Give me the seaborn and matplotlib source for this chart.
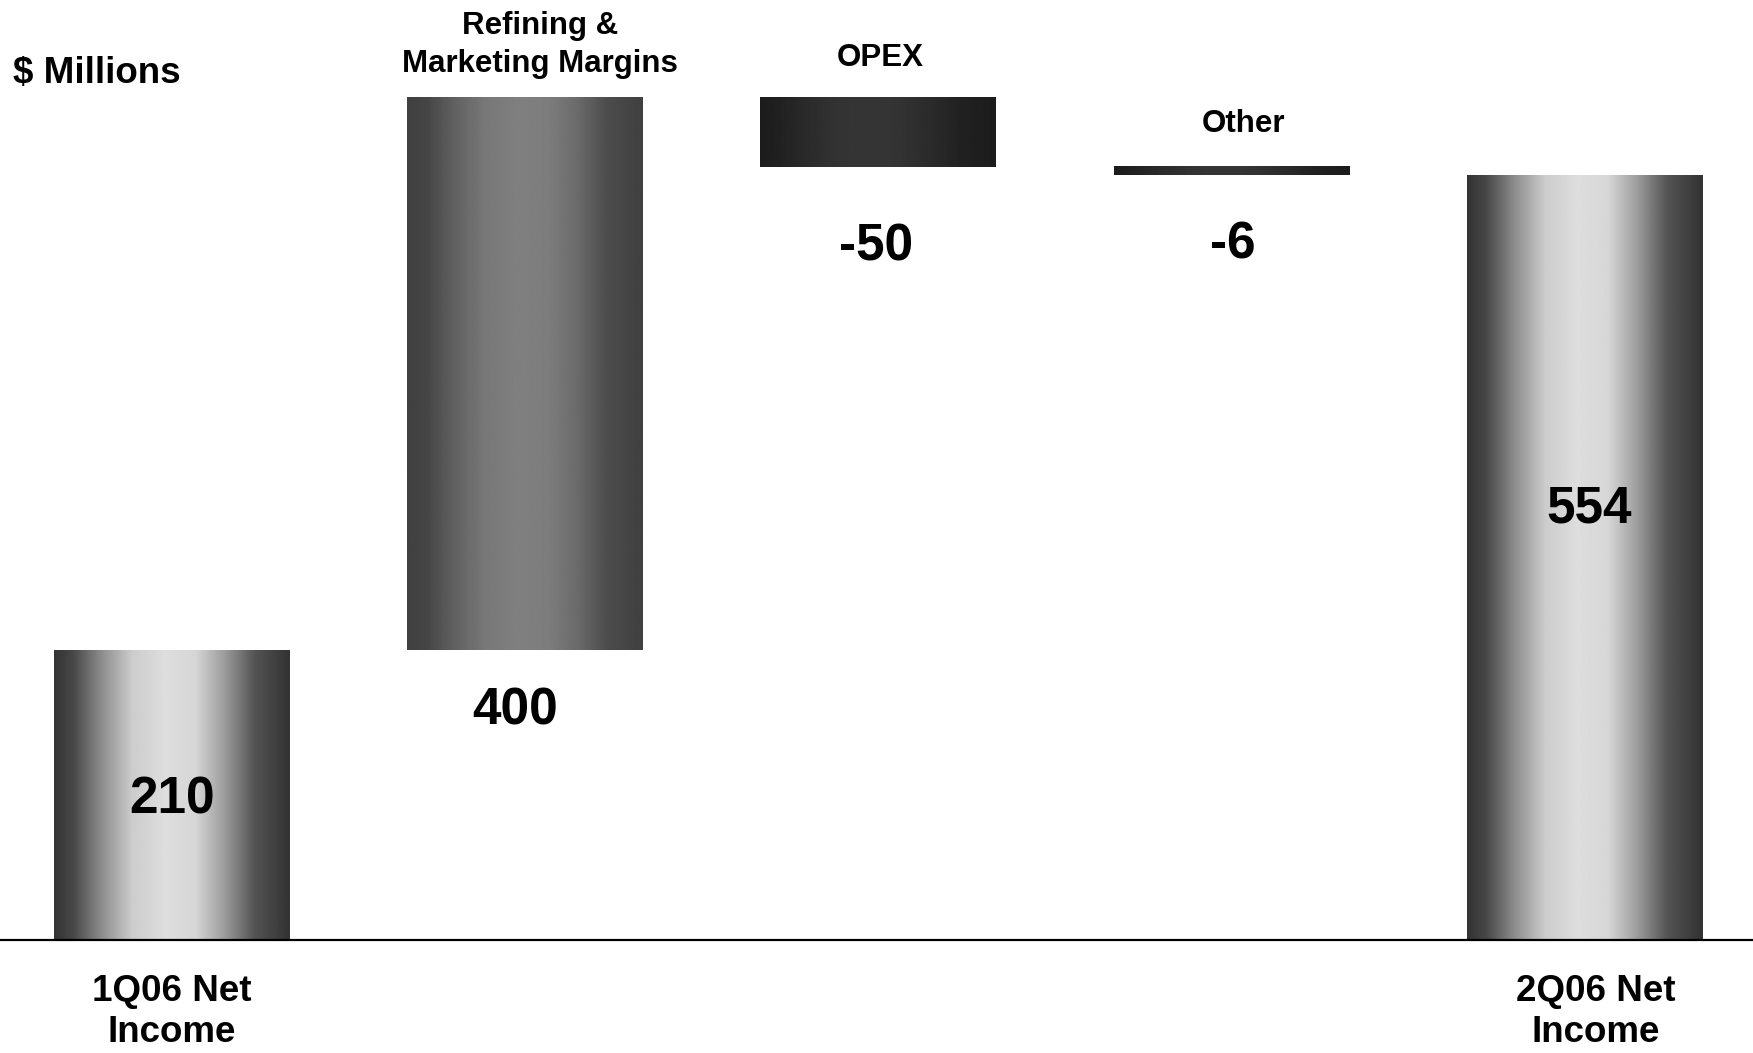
import matplotlib
matplotlib.use("Agg")
import matplotlib.pyplot as plt
import matplotlib.transforms as mtransforms
import numpy as np
import pandas as pd
import seaborn as sns


CATEGORIES = ["1Q06 Net Income", "Refining & Marketing Margins", "OPEX", "Other", "2Q06 Net Income"]
CHANGES = [210, 400, -50, -6, 554]
KINDS = ["total", "delta", "delta", "delta", "total"]
TOP_LABELS = ["", "Refining &\nMarketing Margins", "OPEX", "Other", ""]
TICK_LABELS = ["1Q06 Net\nIncome", "", "", "", "2Q06 Net\nIncome"]

# gray profiles across the bar width (left -> right)
PROFILE_POS = [0, 0.08, 0.2, 0.33, 0.47, 0.6, 0.72, 0.85, 1.0]
SHADES = {
    "light": [0.2, 0.28, 0.55, 0.8, 0.87, 0.84, 0.62, 0.33, 0.2],
    "medium": [0.25, 0.27, 0.38, 0.47, 0.5, 0.49, 0.42, 0.3, 0.25],
    "dark": [0.11, 0.13, 0.17, 0.2, 0.21, 0.2, 0.17, 0.13, 0.11],
}
BAR_SHADE = ["light", "medium", "dark", "dark", "light"]

FONT = ["Liberation Sans", "DejaVu Sans"]


def waterfall_frame() -> pd.DataFrame:
    bottoms, tops = [], []
    running = 0
    for value, kind in zip(CHANGES, KINDS):
        if kind == "total":
            bottoms.append(0)
            tops.append(value)
            running = value
        else:
            start, running = running, running + value
            bottoms.append(min(start, running))
            tops.append(max(start, running))
    return pd.DataFrame({"category": CATEGORIES, "bottom": bottoms, "top": tops})


def paint_gradient(ax, patch, shade):
    x0, y0 = patch.get_x(), patch.get_y()
    x1, y1 = x0 + patch.get_width(), y0 + patch.get_height()
    t = np.linspace(0, 1, 256)
    row = np.interp(t, PROFILE_POS, SHADES[shade])
    ax.imshow(row[np.newaxis, :], cmap="gray", vmin=0, vmax=1, aspect="auto",
              extent=[x0, x1, y0, y1], interpolation="bilinear", zorder=2)
    patch.set_facecolor("none")


df = waterfall_frame()

sns.set_style("white")
plt.rcParams["font.family"] = FONT
plt.rcParams["font.weight"] = "bold"
plt.rcParams["text.color"] = "black"
plt.rcParams["xtick.color"] = "black"

fig = plt.figure(figsize=(17.53, 10.53), dpi=100)
ax = fig.add_axes([0, 0.1073, 1, 0.8927])

sns.barplot(data=df, x="category", y="top", width=0.668, color="gray",
            linewidth=0, ax=ax, zorder=2)

for patch, bottom, top, shade in zip(ax.patches, df["bottom"], df["top"], BAR_SHADE):
    patch.set_y(bottom)
    patch.set_height(top - bottom)
    paint_gradient(ax, patch, shade)

ax.set_xlim(-0.487, 4.476)
ax.set_ylim(0, 681)

# labels above the changing bars
top_offsets = {1: (15, 53), 2: (2, 40), 3: (12, 43)}
for i, (dx, dy) in top_offsets.items():
    ax.annotate(TOP_LABELS[i], xy=(i, df["top"][i]), xytext=(dx, dy),
                textcoords="offset pixels", ha="center", va="center",
                fontsize=22.5, fontweight="bold", linespacing=1.35)

# value labels below the changing bars
below_offsets = {1: (-10, -61), 2: (-2, -80), 3: (1, -70)}
for i, (dx, dy) in below_offsets.items():
    ax.annotate(f"{CHANGES[i]}", xy=(i, df["bottom"][i]), xytext=(dx, dy),
                textcoords="offset pixels", ha="center", va="center",
                fontsize=37, fontweight="bold")

# value labels inside the total bars
inside_offsets = {0: (0, -5), 4: (4, 49)}
for i, (dx, dy) in inside_offsets.items():
    ax.annotate(f"{CHANGES[i]}", xy=(i, df["top"][i] / 2), xytext=(dx, dy),
                textcoords="offset pixels", ha="center", va="center",
                fontsize=37, fontweight="bold")

ax.set_xticks(range(len(CATEGORIES)))
ax.set_xticklabels(TICK_LABELS, fontsize=26.5, fontweight="bold", linespacing=1.23)
ax.tick_params(axis="x", length=0, pad=24.5)
ax.set_yticks([])
ax.set_xlabel("")
ax.set_ylabel("")

# the right-hand total label sits a little right of its bar centre
last = ax.get_xticklabels()[-1]
last.set_transform(last.get_transform()
                   + mtransforms.ScaledTranslation(0.11, 0, fig.dpi_scale_trans))

for side in ["top", "left", "right"]:
    ax.spines[side].set_visible(False)
ax.spines["bottom"].set_color("black")
ax.spines["bottom"].set_linewidth(1.6)
ax.spines["bottom"].set_zorder(5)

fig.text(0.0076, 0.930, "$ Millions", ha="left", va="center",
         fontsize=26.5, fontweight="bold")

fig.savefig("out.png", dpi=100, facecolor="white")
